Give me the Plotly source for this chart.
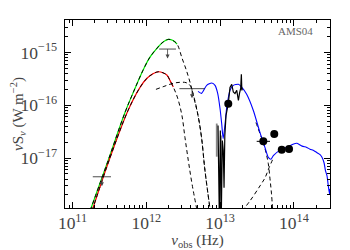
import math
import plotly.graph_objects as go

# ---------------- data ----------------
# cold component (green, solid up to its peak region, black dashed overlay for all)
cold_a_nu = [1.73e11, 3.03e11, 5.14e11, 7.03e11, 9.02e11, 1.12e12, 1.40e12, 1.68e12,
             1.99e12, 2.30e12, 2.61e12, 3.05e12, 3.45e12, 3.91e12, 4.43e12, 5.02e12,
             5.60e12, 6.24e12, 7.53e12]
cold_a_s = [1.0e-18, 8.89e-18, 7.29e-17, 2.09e-16, 4.60e-16, 8.13e-16, 1.21e-15, 1.57e-15,
            1.77e-15, 1.68e-15, 1.44e-15, 7.78e-16, 4.81e-16, 2.72e-16, 1.35e-16, 6.40e-17,
            2.44e-17, 5.73e-18, 7.96e-19]
green_n = 11  # points of the green solid curve

# cold component, second fit (red)
cold_b_nu = [1.84e11, 3.22e11, 5.65e11, 8.22e11, 1.02e12, 1.23e12, 1.46e12, 1.68e12,
             1.91e12, 2.09e12, 2.32e12, 2.63e12, 3.02e12, 3.34e12, 3.71e12, 4.16e12, 4.94e12]
cold_b_s = [1.0e-18, 1.01e-17, 7.96e-17, 2.18e-16, 3.24e-16, 3.94e-16, 4.31e-16, 4.12e-16,
            3.70e-16, 2.96e-16, 2.21e-16, 1.43e-16, 6.68e-17, 2.44e-17, 8.89e-18, 3.24e-18, 9.1e-19]
red_n = 11

# warm component (black dashed)
warm_nu = [1.35e12, 1.79e12, 2.30e12, 2.86e12, 3.45e12, 3.91e12, 4.43e12, 5.02e12,
           5.60e12, 6.24e12, 7.53e12]
warm_s = [2.00e-16, 2.31e-16, 2.60e-16, 2.72e-16, 2.68e-16, 2.38e-16, 1.41e-16, 6.40e-17,
          2.44e-17, 5.73e-18, 7.96e-19]

# hot dust component (black dashed, descending)
hot_nu = [3.06e13, 3.47e13, 3.85e13, 4.19e13, 4.50e13, 4.74e13, 4.97e13, 5.16e13]
hot_s = [4.70e-17, 2.90e-17, 1.95e-17, 1.26e-17, 7.78e-18, 4.04e-18, 2.09e-18, 9.9e-19]

# stellar component (black dashed, rising)
star_nu = [1.98e13, 2.54e13, 3.47e13, 4.06e13, 4.60e13, 5.21e13]
star_s = [9.9e-19, 1.54e-18, 2.96e-18, 4.22e-18, 6.53e-18, 9.70e-18]

# mid-IR template (blue)
mir_nu = [5.02e12, 5.60e12, 6.58e12, 7.69e12, 8.53e12, 9.27e12, 9.97e12, 1.05e13, 1.10e13,
          1.16e13, 1.23e13, 1.36e13, 1.51e13, 1.77e13, 1.96e13, 2.29e13, 2.82e13, 3.47e13,
          4.06e13, 4.50e13, 4.90e13, 5.26e13, 6.49e13, 8.32e13, 9.72e13, 1.10e14, 1.29e14,
          1.49e14, 1.65e14, 1.87e14, 2.06e14, 2.26e14, 2.40e14, 2.56e14, 2.68e14, 2.81e14,
          2.90e14, 2.99e14, 3.04e14, 3.08e14]
mir_s = [1.83e-16, 1.68e-16, 2.38e-16, 2.64e-16, 2.38e-16, 1.68e-16, 8.69e-17, 4.50e-17, 2.33e-17,
         4.12e-17, 9.08e-17, 1.91e-16, 2.38e-16, 2.49e-16, 2.21e-16, 1.61e-16, 7.96e-17, 3.03e-17,
         1.57e-17, 1.03e-17, 9.48e-18, 1.11e-17, 1.41e-17, 1.64e-17, 1.83e-17, 1.90e-17, 1.68e-17,
         1.59e-17, 1.47e-17, 1.38e-17, 1.26e-17, 1.16e-17, 1.03e-17, 8.13e-18, 5.73e-18, 4.60e-18,
         3.24e-18, 2.38e-18, 2.09e-18, 2.60e-18]

# IRS spectrum (black)
irs_nu = [9.37e12, 9.75e12, 1.007e13, 1.038e13, 1.072e13, 1.104e13, 1.130e13, 1.158e13,
          1.202e13, 1.259e13, 1.291e13, 1.361e13, 1.436e13, 1.51e13, 1.59e13, 1.68e13,
          1.77e13, 1.83e13, 1.90e13, 1.94e13, 1.97e13, 2.01e13]
irs_s = [4.12e-17, 8.0e-19, 3.31e-17, 8.0e-19, 2.14e-17, 1.38e-17, 2.72e-18, 2.66e-17,
         6.40e-17, 9.48e-17, 1.08e-16, 2.18e-16, 2.49e-16, 1.78e-16, 1.66e-16, 1.91e-16,
         1.23e-16, 1.68e-16, 2.09e-16, 3.86e-16, 1.91e-16, 2.09e-16]
irs_err_nu = [9.0e12, 1.028e13]
irs_err_lo = [1.06e-17, 8.0e-19]
irs_err_hi = [4.50e-17, 2.66e-17]

# photometry (filled circles)
phot_nu = [1.29e13, 3.85e13, 5.42e13, 6.84e13, 8.59e13]
phot_s = [1.07e-16, 2.07e-17, 2.86e-17, 1.44e-17, 1.48e-17]
phot_nu_errp = [0, 8.9e12, 0, 0, 0]
phot_nu_errm = [0, 7.2e12, 0, 0, 0]

# upper limits
ul_nu = [2.5e11, 1.94e12, 4.16e12]
ul_s = [4.41e-18, 1.16e-15, 2.06e-16]

label = "AMS04"

# ---------------- figure ----------------
fig = go.Figure()
DASH = "4px,3px"

fig.add_trace(go.Scatter(x=cold_a_nu[:green_n], y=cold_a_s[:green_n], mode="lines",
                         line=dict(color="#00ee00", width=1.2, shape="spline")))
fig.add_trace(go.Scatter(x=cold_b_nu[:red_n], y=cold_b_s[:red_n], mode="lines",
                         line=dict(color="#ff0000", width=1.2, shape="spline")))
for xs, ys in [(cold_a_nu, cold_a_s), (cold_b_nu, cold_b_s), (warm_nu, warm_s),
               (hot_nu, hot_s), (star_nu, star_s)]:
    fig.add_trace(go.Scatter(x=xs, y=ys, mode="lines",
                             line=dict(color="black", width=1, dash=DASH, shape="spline")))

fig.add_trace(go.Scatter(x=mir_nu, y=mir_s, mode="lines",
                         line=dict(color="#0000ff", width=1.1, shape="spline", smoothing=0.6)))

# IRS error segments (gray)
ex, ey = [], []
for n, lo, hi in zip(irs_err_nu, irs_err_lo, irs_err_hi):
    ex += [n, n, None]
    ey += [lo, hi, None]
fig.add_trace(go.Scatter(x=ex, y=ey, mode="lines", line=dict(color="#888888", width=1.8)))
fig.add_trace(go.Scatter(x=irs_nu, y=irs_s, mode="lines", line=dict(color="black", width=1.2)))

fig.add_trace(go.Scatter(x=phot_nu, y=phot_s, mode="markers",
                         marker=dict(color="black", size=8, symbol="circle"),
                         error_x=dict(type="data", array=phot_nu_errp, arrayminus=phot_nu_errm,
                                      color="black", thickness=1, width=0)))

fig.add_trace(go.Scatter(x=ul_nu, y=ul_s, mode="markers",
                         marker=dict(symbol="line-ew", size=[13, 12, 18],
                                     line=dict(color="black", width=1))))
for n, s in zip(ul_nu, ul_s):
    fig.add_annotation(x=math.log10(n), y=math.log10(s), xref="x", yref="y", text="",
                       showarrow=True, ax=0, ay=11, arrowside="start", startarrowhead=2,
                       startarrowsize=1.0, arrowwidth=0.8, arrowcolor="#444444")

fig.add_annotation(x=1, y=1, xref="paper", yref="paper", xanchor="right", yanchor="top",
                   xshift=-15, yshift=-3, text=label, showarrow=False,
                   font=dict(family="Liberation Serif", size=11, color="#666666"))

axis_common = dict(type="log", showline=True, linecolor="black", linewidth=1, mirror="ticks",
                   ticks="inside", ticklen=6, tickcolor="black", showgrid=False, zeroline=False,
                   dtick=1, exponentformat="power", showexponent="all", automargin=False,
                   tickfont=dict(family="Liberation Serif", size=14, color="#444444"),
                   minor=dict(ticks="inside", ticklen=3, tickcolor="black", showgrid=False))

fig.update_xaxes(range=[10.898, 14.489],
                 title=dict(text="<i>ν</i><sub>obs</sub> (Hz)", standoff=4,
                            font=dict(family="Liberation Serif", size=15, color="#444444")),
                 **axis_common)
fig.update_yaxes(range=[-17.947, -14.385], ticklabelstandoff=4,
                 title=dict(text="<i>ν</i>S<sub><i>ν</i></sub> (W m<sup>−2</sup>)", standoff=2,
                            font=dict(family="Liberation Serif", size=15, color="#444444")),
                 **axis_common)

# page body has an 8 px margin: shrink the figure and margins so the axes land where they should
fig.update_layout(width=342, height=242, margin=dict(l=57, r=20, t=12, b=42),
                  paper_bgcolor="white", plot_bgcolor="white", showlegend=False)

fig.write_html("out.html")
